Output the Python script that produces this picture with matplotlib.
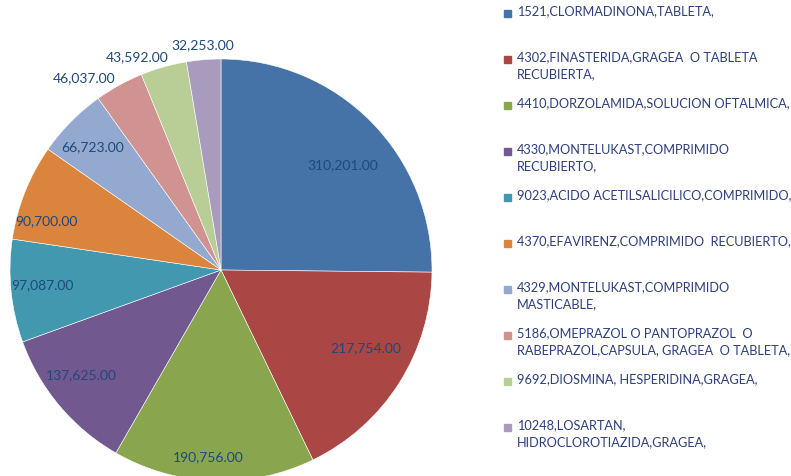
import matplotlib.pyplot as plt
import matplotlib.patches as mpatches
import numpy as np

# Datos del gráfico
etiquetas = [
    "1521,CLORMADINONA,TABLETA,",
    "4302,FINASTERIDA,GRAGEA  O TABLETA\nRECUBIERTA,",
    "4410,DORZOLAMIDA,SOLUCION OFTALMICA,",
    "4330,MONTELUKAST,COMPRIMIDO\nRECUBIERTO,",
    "9023,ACIDO ACETILSALICILICO,COMPRIMIDO,",
    "4370,EFAVIRENZ,COMPRIMIDO  RECUBIERTO,",
    "4329,MONTELUKAST,COMPRIMIDO\nMASTICABLE,",
    "5186,OMEPRAZOL O PANTOPRAZOL  O\nRABEPRAZOL,CAPSULA, GRAGEA  O TABLETA,",
    "9692,DIOSMINA, HESPERIDINA,GRAGEA,",
    "10248,LOSARTAN,\nHIDROCLOROTIAZIDA,GRAGEA,",
]
valores = [310201, 217754, 190756, 137625, 97087, 90700, 66723, 46037, 43592, 32253]
colores = ["#4572A7", "#AA4643", "#89A54E", "#71588F", "#4198AF",
           "#DB843D", "#93A9CF", "#D19392", "#B9CD96", "#A99BBD"]

# Posición de cada etiqueta: radio (fracción) y desplazamiento angular (grados)
radio_etiqueta = [0.76, 0.78, 0.89, 0.83, 0.85, 0.86, 0.84, 1.04, 1.04, 1.04]
giro_etiqueta = [-4, 4, -2, -3, -1, 6, 1, 0, -2, 0]

plt.rcParams['font.family'] = ['Lato', 'DejaVu Sans']
texto_color = "#1F497D"

fig = plt.figure(figsize=(7.91, 4.76), dpi=100)
ax = fig.add_axes([10 / 791, -5 / 476, 422 / 791, 422 / 476])

wedges, _ = ax.pie(valores, colors=colores, startangle=90, counterclock=False,
                   wedgeprops=dict(edgecolor="white", linewidth=0.4))
ax.set_xlim(-1, 1)
ax.set_ylim(-1, 1)
ax.set_aspect("equal")
ax.axis("off")

# Etiquetas de valores (dentro o fuera del pastel)
for w, v, r, g in zip(wedges, valores, radio_etiqueta, giro_etiqueta):
    ang = np.deg2rad((w.theta1 + w.theta2) / 2 + g)
    x, y = r * np.cos(ang), r * np.sin(ang)
    if r > 1:
        centrado = abs(np.cos(ang)) < 0.15
        ha = "center" if centrado else ("right" if x < 0 else "left")
        va = "bottom" if centrado else "center"
    else:
        ha, va = "center", "center"
    ax.text(x, y, f"{v:,.2f}", ha=ha, va=va, fontsize=10, color=texto_color,
            clip_on=False)

# Leyenda manual
for i, (lab, col) in enumerate(zip(etiquetas, colores)):
    y = 1 - (13 + 46 * i) / 476
    fig.patches.append(mpatches.Rectangle((504 / 791, y - 4 / 476), 7 / 791, 7 / 476,
                                          transform=fig.transFigure, color=col))
    fig.text(517 / 791, y + 8 / 476, lab, ha="left", va="top", fontsize=9.2,
             color="#2E3F7F", linespacing=1.55)

plt.savefig("out.png", dpi=100)
